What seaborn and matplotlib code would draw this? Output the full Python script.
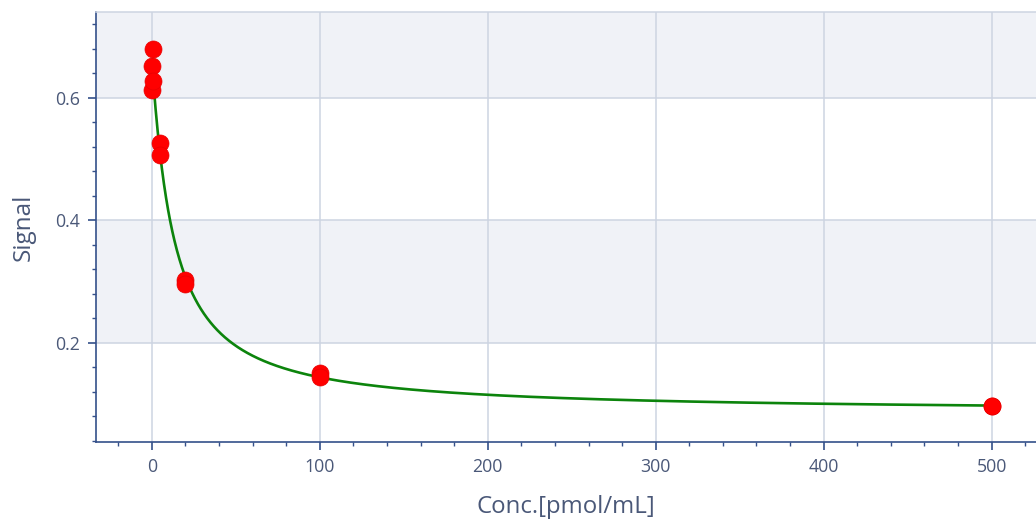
import numpy as np
import pandas as pd
import matplotlib
matplotlib.use("Agg")
import matplotlib.pyplot as plt
from matplotlib.ticker import MultipleLocator
import seaborn as sns

# Standards: concentration (pmol/mL) and measured signal, duplicates per level
conc = [0, 0, 1, 1, 5, 5, 20, 20, 100, 100, 500, 500]
signal = [0.652, 0.6125, 0.679, 0.628, 0.526, 0.506,
          0.302, 0.296, 0.151, 0.144, 0.097, 0.096]

x_ticks = [0, 100, 200, 300, 400, 500]
y_ticks = [0.2, 0.4, 0.6]


def four_pl(x, a, b, c, d):
    return d + (a - d) / (1.0 + (np.asarray(x, float) / c) ** b)


def fit_four_pl(x, y):
    """Relative-error weighted 4PL fit: grid over slope/EC50,
    weighted linear solve for the two asymptotes."""
    x = np.asarray(x, float)
    y = np.asarray(y, float)
    w = 1.0 / y
    best = None
    for b in np.linspace(0.4, 2.5, 211):
        for c in np.geomspace(0.5, 200, 500):
            s = 1.0 / (1.0 + (x / c) ** b)
            design = np.column_stack([s, 1.0 - s])
            coef, *_ = np.linalg.lstsq(design * w[:, None], y * w, rcond=None)
            sse = np.sum(((design @ coef - y) * w) ** 2)
            if best is None or sse < best[0]:
                best = (sse, coef[0], b, c, coef[1])
    return best[1:]


a_fit, b_fit, c_fit, d_fit = fit_four_pl(conc, signal)
curve_x = np.linspace(0, 500, 2000)
curve = pd.DataFrame({"conc": curve_x,
                      "signal": four_pl(curve_x, a_fit, b_fit, c_fit, d_fit)})
points = pd.DataFrame({"conc": conc, "signal": signal})

sns.set_theme(style="white")
plt.rcParams["font.family"] = ["Open Sans", "DejaVu Sans"]

text_color = "#4a5878"
spine_color = "#34508a"
grid_color = "#cdd4e2"
band_color = "#f0f2f7"

fig = plt.figure(figsize=(10.36, 5.23), dpi=100)
ax = fig.add_axes([96 / 1036, 81 / 523, 940 / 1036, 430 / 523])

ax.set_xlim(-33.2, 526.4)
ax.set_ylim(0.038, 0.74)

# alternating horizontal bands
ax.axhspan(0.2, 0.4, color=band_color, zorder=0, lw=0)
ax.axhspan(0.6, 0.74, color=band_color, zorder=0, lw=0)

sns.lineplot(data=curve, x="conc", y="signal", ax=ax, color="#0c840c",
             lw=1.9, zorder=3)
sns.scatterplot(data=points, x="conc", y="signal", ax=ax, color="#ff0000",
                s=150, edgecolor="#e80000", linewidth=0.5, zorder=4)

ax.xaxis.set_major_locator(plt.FixedLocator(x_ticks))
ax.xaxis.set_minor_locator(MultipleLocator(20))
ax.yaxis.set_major_locator(plt.FixedLocator(y_ticks))
ax.yaxis.set_minor_locator(MultipleLocator(0.04))
ax.set_yticklabels([f"{v:.1f}" for v in y_ticks])

ax.grid(True, which="major", color=grid_color, lw=1.1, zorder=1)
ax.set_axisbelow(True)

for side in ("left", "bottom"):
    ax.spines[side].set_color(spine_color)
    ax.spines[side].set_linewidth(1.2)
ax.spines["right"].set_visible(False)
ax.spines["top"].set_color(grid_color)
ax.spines["top"].set_linewidth(1.1)

ax.tick_params(axis="both", which="major", direction="out", length=5.5,
               width=1.2, color=spine_color, labelcolor=text_color,
               labelsize=12.8)
ax.tick_params(axis="both", which="minor", direction="out", length=2.8,
               width=1.0, color=spine_color)
ax.tick_params(axis="x", which="major", pad=6)
ax.tick_params(axis="y", which="major", pad=6)
ax.tick_params(axis="x", which="both", bottom=True)
ax.tick_params(axis="y", which="both", left=True)

ax.set_xlabel("Conc.[pmol/mL]", fontsize=17.3, color=text_color, labelpad=14)
ax.set_ylabel("Signal", fontsize=17.5, color=text_color, labelpad=14)

fig.savefig("out.png", dpi=100)
